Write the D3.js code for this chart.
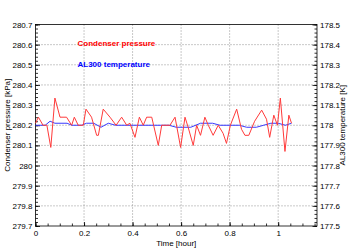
<!DOCTYPE html>
<html>
<head>
<meta charset="utf-8">
<script src="https://cdn.jsdelivr.net/npm/d3@7"></script>
<style>
  body { margin: 0; background: #fff; }
  text { font-family: "Liberation Sans", Arial, sans-serif; }
</style>
</head>
<body>
<div id="chart"></div>
<script>
// Condenser pressure [kPa] vs time [hour]
const pressureTime = [0, 0.012, 0.031, 0.047, 0.063, 0.080, 0.101, 0.128, 0.149, 0.160, 0.176, 0.197,
  0.208, 0.231, 0.252, 0.259, 0.279, 0.307, 0.332, 0.355, 0.376, 0.389, 0.410, 0.428, 0.444, 0.458,
  0.479, 0.506, 0.520, 0.554, 0.575, 0.598, 0.616, 0.629, 0.650, 0.664, 0.680, 0.698, 0.712, 0.732,
  0.753, 0.773, 0.787, 0.803, 0.829, 0.849, 0.863, 0.879, 0.903, 0.932, 0.952, 0.965, 0.982, 0.997,
  1.009, 1.028, 1.044, 1.055];
const pressureValues = [280.21, 280.24, 280.20, 280.20, 280.09, 280.335, 280.24, 280.24, 280.20, 280.24, 280.20, 280.20,
  280.28, 280.24, 280.15, 280.15, 280.28, 280.24, 280.20, 280.24, 280.20, 280.21, 280.14, 280.24, 280.20, 280.24,
  280.24, 280.10, 280.20, 280.20, 280.24, 280.09, 280.24, 280.19, 280.10, 280.20, 280.15, 280.24, 280.20, 280.15,
  280.20, 280.16, 280.11, 280.20, 280.28, 280.18, 280.15, 280.15, 280.22, 280.275, 280.23, 280.14, 280.25, 280.20,
  280.335, 280.07, 280.25, 280.21];

// AL300 temperature [K] vs time [hour]
const tempTime = [0, 0.04, 0.06, 0.08, 0.13, 0.15, 0.19, 0.21, 0.24, 0.27, 0.30, 0.33, 0.55, 0.58, 0.64,
  0.68, 0.73, 0.76, 0.84, 0.87, 0.91, 0.94, 0.97, 1.0, 1.03, 1.055];
const tempValues = [178.00, 178.00, 178.02, 178.01, 178.01, 178.00, 178.00, 178.01, 178.01, 177.99, 178.01, 178.00, 178.00, 177.99, 177.99,
  178.01, 178.01, 178.00, 178.00, 177.99, 177.99, 178.00, 178.01, 178.01, 178.00, 178.01];

const xTicks = [0, 0.2, 0.4, 0.6, 0.8, 1];
const leftTicks = [279.7, 279.8, 279.9, 280, 280.1, 280.2, 280.3, 280.4, 280.5, 280.6, 280.7];
const rightTicks = [177.5, 177.6, 177.7, 177.8, 177.9, 178, 178.1, 178.2, 178.3, 178.4, 178.5];
const seriesNames = ["Condenser pressure", "AL300 temperature"];

const W = 354, H = 252;
const margin = { top: 24.5, right: 37, bottom: 26, left: 35.5 };
const width = W - margin.left - margin.right,
      height = H - margin.top - margin.bottom;

const svg = d3.select("#chart").append("svg")
  .attr("width", W).attr("height", H);
const g = svg.append("g")
  .attr("transform", `translate(${margin.left},${margin.top})`);

const x = d3.scaleLinear().domain([0, 1.16]).range([0, width]);
const yL = d3.scaleLinear().domain([279.7, 280.7]).range([height, 0]);
const yR = d3.scaleLinear().domain([177.5, 178.5]).range([height, 0]);

// dotted grid
g.append("g").selectAll("line").data(xTicks.slice(1)).join("line")
  .attr("x1", d => x(d)).attr("x2", d => x(d)).attr("y1", 0).attr("y2", height)
  .attr("stroke", "#777").attr("stroke-width", 0.8).attr("stroke-dasharray", "1,2");
g.append("g").selectAll("line").data(leftTicks.slice(1, -1)).join("line")
  .attr("y1", d => yL(d)).attr("y2", d => yL(d)).attr("x1", 0).attr("x2", width)
  .attr("stroke", "#777").attr("stroke-width", 0.8).attr("stroke-dasharray", "1,2");

// minor ticks
const minorX = d3.range(0, 1.16, 0.05);
const minorY = d3.range(0, 51).map(i => 279.7 + i * 0.02);
const minorYR = d3.range(0, 51).map(i => 177.5 + i * 0.02);

function styleAxis(sel) {
  sel.select(".domain").remove();
  sel.selectAll("line").attr("stroke", "#000").attr("stroke-width", 0.8);
  sel.selectAll("text").attr("font-size", 8).attr("fill", "#000");
}

g.append("g").attr("transform", `translate(0,${height})`)
  .call(d3.axisBottom(x).tickValues(minorX).tickSize(-2.5).tickFormat(""))
  .call(styleAxis);
g.append("g").attr("transform", `translate(0,${height})`)
  .call(d3.axisBottom(x).tickValues(xTicks).tickSize(-4).tickPadding(4).tickFormat(d3.format("~g")))
  .call(styleAxis);

g.append("g")
  .call(d3.axisLeft(yL).tickValues(minorY).tickSize(-2.5).tickFormat(""))
  .call(styleAxis);
g.append("g")
  .call(d3.axisLeft(yL).tickValues(leftTicks).tickSize(-4.5).tickPadding(3).tickFormat(d3.format("~g")))
  .call(styleAxis);

g.append("g").attr("transform", `translate(${width},0)`)
  .call(d3.axisRight(yR).tickValues(minorYR).tickSize(-2.5).tickFormat(""))
  .call(styleAxis);
g.append("g").attr("transform", `translate(${width},0)`)
  .call(d3.axisRight(yR).tickValues(rightTicks).tickSize(-4.5).tickPadding(3).tickFormat(d3.format("~g")))
  .call(styleAxis);

// frame
g.append("rect").attr("width", width).attr("height", height)
  .attr("fill", "none").attr("stroke", "#000").attr("stroke-width", 0.8);

// lines
const pressure = pressureTime.map((t, i) => ({ t, v: pressureValues[i] }));
const temp = tempTime.map((t, i) => ({ t, v: tempValues[i] }));

g.append("path").datum(temp)
  .attr("d", d3.line().x(d => x(d.t)).y(d => yR(d.v)))
  .attr("fill", "none").attr("stroke", "#3a3aff").attr("stroke-width", 1);
g.append("path").datum(pressure)
  .attr("d", d3.line().x(d => x(d.t)).y(d => yL(d.v)))
  .attr("fill", "none").attr("stroke", "#ff3a3a").attr("stroke-width", 1);

// legend labels
g.selectAll(".legend").data(seriesNames).join("text")
  .attr("x", 42).attr("y", (d, i) => 21 + i * 21)
  .attr("font-size", 8).attr("font-weight", "bold")
  .attr("fill", (d, i) => i === 0 ? "#ff0000" : "#0000ff")
  .text(d => d);

// axis titles
svg.append("text")
  .attr("x", margin.left + width / 2).attr("y", 246)
  .attr("text-anchor", "middle").attr("font-size", 8).text("Time [hour]");
svg.append("text")
  .attr("transform", `translate(10,${margin.top + height / 2}) rotate(-90)`)
  .attr("text-anchor", "middle").attr("font-size", 8).text("Condenser pressure [kPa]");
svg.append("text")
  .attr("transform", `translate(345,${margin.top + height / 2}) rotate(-90)`)
  .attr("text-anchor", "middle").attr("font-size", 8).text("AL300 temperature [K]");
</script>
</body>
</html>
